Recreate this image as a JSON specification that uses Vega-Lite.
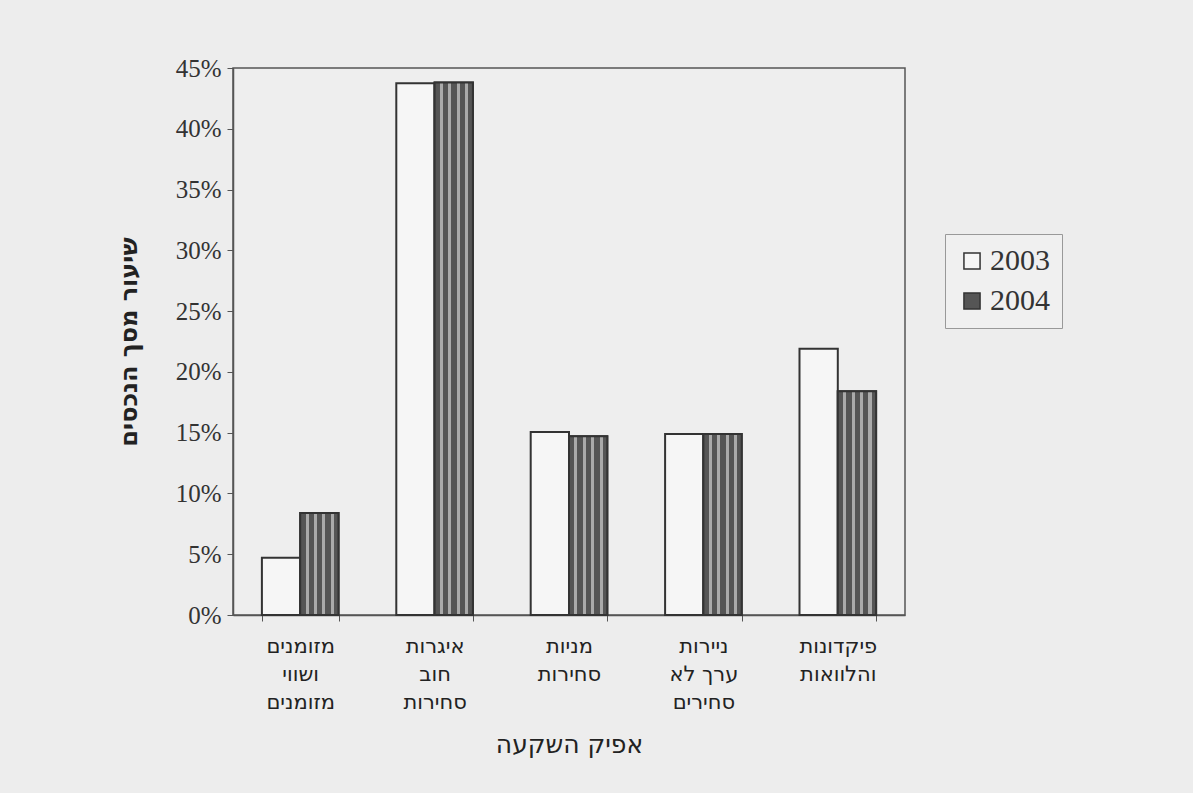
{
  "$schema": "https://vega.github.io/schema/vega-lite/v6.json",
  "width": 672,
  "height": 547,
  "autosize": {"type": "none"},
  "padding": {"left": 233, "top": 68, "right": 288, "bottom": 178},
  "background": "#ededed",
  "config": {
    "view": {"stroke": "#555", "strokeWidth": 1.5, "fill": "#eeeeee"},
    "font": "Liberation Serif"
  },
  "data": {
    "values": [
      {"category": "מזומנים|ושווי|מזומנים", "year": "2003", "value": 0.047},
      {"category": "מזומנים|ושווי|מזומנים", "year": "2004", "value": 0.084},
      {"category": "איגרות|חוב|סחירות", "year": "2003", "value": 0.4375},
      {"category": "איגרות|חוב|סחירות", "year": "2004", "value": 0.438},
      {"category": "מניות|סחירות", "year": "2003", "value": 0.1505},
      {"category": "מניות|סחירות", "year": "2004", "value": 0.147},
      {"category": "ניירות|ערך לא|סחירים", "year": "2003", "value": 0.149},
      {"category": "ניירות|ערך לא|סחירים", "year": "2004", "value": 0.149},
      {"category": "פיקדונות|והלוואות", "year": "2003", "value": 0.219},
      {"category": "פיקדונות|והלוואות", "year": "2004", "value": 0.184}
    ]
  },
  "encoding": {
    "x": {
      "field": "category",
      "type": "nominal",
      "sort": null,
      "scale": {"paddingInner": 0.43, "paddingOuter": 0.215},
      "axis": {
        "title": "אפיק השקעה",
        "titleFont": "DejaVu Sans",
        "titleFontSize": 25,
        "titleFontWeight": "normal",
        "titleColor": "#222",
        "titlePadding": 20,
        "labelAngle": 0,
        "labelExpr": "split(datum.label, '|')",
        "labelFont": "DejaVu Sans",
        "labelFontSize": 21,
        "labelLineHeight": 28,
        "labelColor": "#222",
        "labelPadding": 14,
        "labelBaseline": "top",
        "tickBand": "extent",
        "tickSize": 6,
        "tickColor": "#555",
        "domainColor": "#555",
        "domainWidth": 1.5
      }
    },
    "xOffset": {"field": "year", "type": "nominal", "scale": {"domain": ["2003", "2004"]}},
    "y": {
      "field": "value",
      "type": "quantitative",
      "scale": {"domain": [0, 0.45], "nice": false},
      "axis": {
        "title": "שיעור מסך הנכסים",
        "titleFont": "DejaVu Sans",
        "titleFontSize": 24,
        "titleFontWeight": "bold",
        "titleColor": "#222",
        "titlePadding": 34,
        "values": [0, 0.05, 0.1, 0.15, 0.2, 0.25, 0.3, 0.35, 0.4, 0.45],
        "format": ".0%",
        "labelFont": "Liberation Serif",
        "labelFontSize": 25,
        "labelColor": "#333",
        "labelPadding": 6,
        "tickSize": 6,
        "tickColor": "#555",
        "domainColor": "#555",
        "domainWidth": 1.5,
        "grid": false
      }
    }
  },
  "layer": [
    {
      "mark": {"type": "bar", "stroke": "#333", "strokeWidth": 2, "opacity": 1},
      "encoding": {
        "fill": {
          "field": "year",
          "type": "nominal",
          "scale": {"domain": ["2003", "2004"], "range": ["#f6f6f6", "#555555"]},
          "legend": {
            "title": null,
            "orient": "none",
            "legendX": 712,
            "legendY": 166,
            "symbolType": "square",
            "symbolSize": 260,
            "symbolStrokeColor": "#333",
            "symbolStrokeWidth": 1.5,
            "symbolOpacity": 1,
            "labelFont": "Liberation Serif",
            "labelFontSize": 30,
            "labelColor": "#333",
            "labelOffset": 3,
            "rowPadding": 10,
            "padding": 12,
            "strokeColor": "#999",
            "fillColor": "#f0f0f0",
            "encode": {
              "symbols": {
                "update": {
                  "stroke": {"value": "#333"},
                  "strokeWidth": {"value": 1.5}
                }
              }
            }
          }
        }
      }
    },
    {
      "transform": [{"filter": "datum.year === '2004'"}],
      "mark": {
        "type": "bar",
        "stroke": "#333",
        "strokeWidth": 2,
        "opacity": 1,
        "fill": {"gradient": "linear", "x1": 0, "y1": 0, "x2": 1, "y2": 0, "stops": [
          {"offset": 0, "color": "#555"}, {"offset": 0.14, "color": "#555"},
          {"offset": 0.14, "color": "#aaa"}, {"offset": 0.22, "color": "#aaa"},
          {"offset": 0.22, "color": "#555"}, {"offset": 0.36, "color": "#555"},
          {"offset": 0.36, "color": "#aaa"}, {"offset": 0.44, "color": "#aaa"},
          {"offset": 0.44, "color": "#555"}, {"offset": 0.58, "color": "#555"},
          {"offset": 0.58, "color": "#aaa"}, {"offset": 0.66, "color": "#aaa"},
          {"offset": 0.66, "color": "#555"}, {"offset": 0.80, "color": "#555"},
          {"offset": 0.80, "color": "#aaa"}, {"offset": 0.88, "color": "#aaa"},
          {"offset": 0.88, "color": "#555"}, {"offset": 1, "color": "#555"}
        ]}
      }
    }
  ]
}
